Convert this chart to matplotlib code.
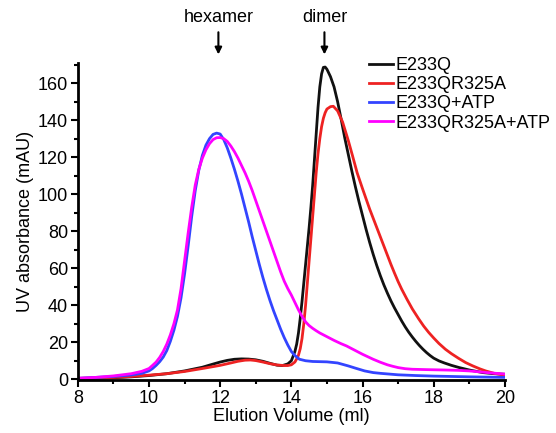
import matplotlib
matplotlib.use("Agg")
import matplotlib.pyplot as plt
from matplotlib.ticker import MultipleLocator

plt.rcParams['font.family'] = ['Liberation Sans', 'DejaVu Sans']

# E233Q
vol_e233q = [8.0, 8.5, 9.0, 9.5, 10.0, 10.5, 11.0, 11.5, 11.8, 12.0, 12.2, 12.4, 12.6, 12.8,
             13.0, 13.2, 13.4, 13.6, 13.75, 13.9, 14.0, 14.05, 14.1, 14.15, 14.2, 14.25, 14.3,
             14.35, 14.4, 14.45, 14.5, 14.55, 14.6, 14.65, 14.7, 14.75, 14.8, 14.85, 14.9,
             14.95, 15.0, 15.1, 15.2, 15.3, 15.4, 15.5, 15.6, 15.7, 15.8, 15.9, 16.0, 16.1,
             16.2, 16.3, 16.4, 16.5, 16.6, 16.7, 16.8, 16.9, 17.0, 17.1, 17.2, 17.3, 17.4,
             17.5, 17.6, 17.7, 17.8, 17.9, 18.0, 18.15, 18.3, 18.5, 18.72, 19.0, 19.38, 19.7, 20.0]
abs_e233q = [0.3, 0.5, 0.8, 1.3, 2.0, 3.0, 4.5, 6.5, 8.2, 9.3, 10.2, 10.8, 11.0, 10.9,
             10.5, 9.7, 8.6, 7.6, 7.4, 8.3, 10, 12.5, 15, 19, 25, 33, 42,
             52, 62, 72, 82, 93, 105, 119, 133, 147, 158, 165, 168.5,
             168.7, 167.5, 163.5, 158, 150, 140.5, 130.5, 121.5, 112.5, 104, 96, 88.5, 81,
             74, 67.5, 61.5, 56, 51, 46.5, 42.3, 38.5, 35, 31.5, 28.3, 25.4, 22.8,
             20.4, 18.2, 16.2, 14.4, 12.8, 11.4, 9.9, 8.8, 7.5, 6.3, 5.0, 3.6, 3.0, 2.7]

# E233QR325A
vol_r325a = [8.0, 8.5, 9.0, 9.5, 10.0, 10.5, 11.0, 11.5, 12.0, 12.3, 12.5, 12.7, 12.85, 13.0,
             13.2, 13.4, 13.6, 13.8, 13.9, 14.0, 14.1, 14.15, 14.2, 14.25, 14.3, 14.35, 14.4,
             14.45, 14.5, 14.55, 14.6, 14.65, 14.7, 14.75, 14.8, 14.85, 14.9, 14.95, 15.0,
             15.1, 15.18, 15.3, 15.44, 15.6, 15.72, 15.85, 16.0, 16.1, 16.2, 16.3, 16.4, 16.5,
             16.6, 16.7, 16.8, 16.9, 17.0, 17.1, 17.25, 17.4, 17.58, 17.72, 17.86, 18.0, 18.15,
             18.33, 18.5, 18.7, 18.9, 19.1, 19.3, 19.46, 19.7, 20.0]
abs_r325a = [0.5, 0.7, 1.0, 1.5, 2.2, 3.0, 4.2, 5.8, 7.5, 8.8, 9.7, 10.3, 10.4, 10.1,
             9.3, 8.4, 7.7, 7.4, 7.4, 7.8, 9.3, 11, 13, 16.5, 22, 30, 40,
             52, 64, 76, 88, 100, 112, 122, 130, 136.5, 141, 144, 146,
             147.3, 147.5, 145, 139, 129, 120.7, 111.5, 103, 97.5, 92, 87, 82, 77,
             72, 67, 62, 57.3, 52.8, 48.7, 43.2, 38, 32.6, 28.7, 25.3, 22.3, 19.3,
             16.2, 13.8, 11.3, 9.0, 7.2, 5.6, 4.5, 3.2, 2.2]

# E233Q+ATP
vol_atp = [8.0, 8.5, 9.0, 9.5, 9.8, 10.0, 10.1, 10.2, 10.3, 10.4, 10.5, 10.6, 10.7, 10.8,
           10.9, 11.0, 11.1, 11.2, 11.3, 11.4, 11.5, 11.6, 11.7, 11.8, 11.9, 12.0, 12.1,
           12.2, 12.3, 12.4, 12.5, 12.6, 12.7, 12.8, 12.9, 13.0, 13.1, 13.2, 13.3, 13.4,
           13.5, 13.6, 13.7, 13.8, 13.9, 14.0, 14.1, 14.23, 14.4, 14.6, 15.0, 15.3, 15.6,
           15.8, 16.06, 16.3, 16.5, 17.0, 17.5, 18.0, 19.0, 20.0]
abs_atp = [0.5, 1.0, 1.5, 2.3, 3.2, 4.5, 5.8, 7.5, 9.5, 12, 15.5, 20.5, 26.5, 34,
           44, 57, 72, 88, 102, 113, 121, 126.5, 130, 132.3, 133, 132.5, 129.5,
           125, 119.5, 113.5, 107, 100, 92.5, 85, 77, 69.5, 62, 55, 48.5, 42.5,
           37, 32, 27, 22.5, 18.5, 15, 12.8, 10.8, 10, 9.6, 9.4, 8.8, 7.2,
           6.0, 4.5, 3.6, 3.2, 2.4, 2.0, 1.7, 1.3, 1.0]

# E233QR325A+ATP
vol_r325a_atp = [8.0, 8.5, 9.0, 9.5, 9.8, 10.0, 10.1, 10.2, 10.3, 10.4, 10.5, 10.6, 10.7,
                 10.8, 10.9, 11.0, 11.1, 11.2, 11.3, 11.4, 11.5, 11.6, 11.7, 11.8, 11.9, 12.0,
                 12.1, 12.2, 12.3, 12.4, 12.5, 12.6, 12.7, 12.8, 12.9, 13.0, 13.1, 13.2, 13.3,
                 13.4, 13.5, 13.6, 13.7, 13.8, 13.9, 14.0, 14.1, 14.2, 14.3, 14.4, 14.5, 14.6,
                 14.7, 14.8, 14.9, 15.0, 15.2, 15.4, 15.55, 15.8, 16.0, 16.3, 16.5, 16.7, 16.85,
                 17.0, 17.2, 17.4, 17.8, 18.3, 18.7, 19.0, 19.5, 20.0]
abs_r325a_atp = [0.5, 1.0, 1.8, 3, 4.3, 5.8, 7.5, 9.3, 11.8, 15, 19, 24, 30,
                 37.5, 49, 64, 79, 93, 105, 113.5, 119.5, 124, 127.3, 129.5, 130.5, 130.6,
                 130, 128.5, 126, 123, 119.5, 115.5, 111.5, 107, 102, 96.5, 91, 85.5, 80,
                 74.5, 69, 63.5, 58, 53, 49, 45.5, 41.5, 37.5, 34, 31, 29, 27.5,
                 26.2, 25.0, 24, 23, 21, 19.2, 18, 15.5, 13.5, 10.8, 9.2, 7.8, 7.0,
                 6.3, 5.7, 5.4, 5.2, 5.0, 4.8, 4.5, 3.6, 2.8]

fig = plt.figure(figsize=(5.56, 4.33), dpi=100)
ax = fig.add_axes([0.140, 0.122, 0.768, 0.733])

lw = 2.0
ax.plot(vol_e233q, abs_e233q, color='#111111', lw=lw, label='E233Q')
ax.plot(vol_r325a, abs_r325a, color='#ee2222', lw=lw, label='E233QR325A')
ax.plot(vol_atp, abs_atp, color='#3344ff', lw=lw, label='E233Q+ATP')
ax.plot(vol_r325a_atp, abs_r325a_atp, color='#ff00ff', lw=lw, label='E233QR325A+ATP')

ax.set_xlim(8, 20)
ax.set_ylim(-0.5, 171)
ax.xaxis.set_major_locator(MultipleLocator(2))
ax.xaxis.set_minor_locator(MultipleLocator(1))
ax.yaxis.set_major_locator(MultipleLocator(20))
ax.yaxis.set_minor_locator(MultipleLocator(10))

for s in ['top', 'right']:
    ax.spines[s].set_visible(False)
for s in ['left', 'bottom']:
    ax.spines[s].set_linewidth(2)
ax.tick_params(which='major', direction='out', length=5, width=1.5, labelsize=13, pad=2)
ax.tick_params(which='minor', direction='out', length=3, width=1.5)

ax.set_xlabel('Elution Volume (ml)', fontsize=13, labelpad=1)
ax.set_ylabel('UV absorbance (mAU)', fontsize=13, labelpad=3)

# peak markers
for xv, name in [(11.95, 'hexamer'), (14.93, 'dimer')]:
    ax.annotate('', xy=(xv, 174), xytext=(xv, 189), annotation_clip=False,
                arrowprops=dict(arrowstyle='-|>', color='black', lw=1.5, mutation_scale=10))
    ax.text(xv, 195.5, name, ha='center', va='center', fontsize=13, clip_on=False)

ax.legend(loc='upper left', bbox_to_anchor=(0.664, 0.868), bbox_transform=fig.transFigure,
          frameon=False, fontsize=13, handlelength=1.3, handletextpad=0.15,
          labelspacing=0.12, borderpad=0, borderaxespad=0)

fig.savefig('out.png', dpi=100)
